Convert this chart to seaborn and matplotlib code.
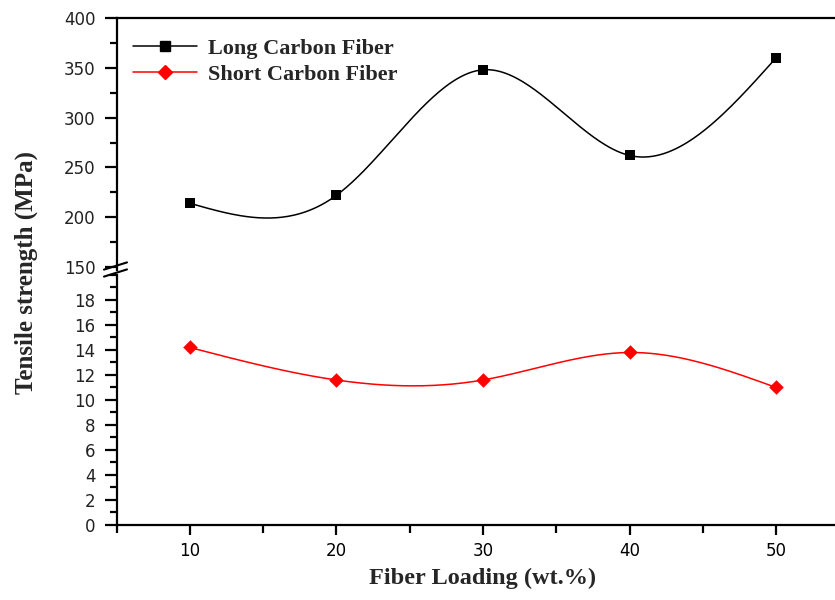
import numpy as np
import pandas as pd
import matplotlib
matplotlib.use("Agg")
import matplotlib.pyplot as plt
from matplotlib.lines import Line2D
from matplotlib.ticker import MultipleLocator
import seaborn as sns

# ---- data ----
fiber_loading = [10, 20, 30, 40, 50]
long_carbon = [214, 222, 348, 262, 360]
short_carbon = [14.2, 11.6, 11.6, 13.8, 11.0]
series_names = ["Long Carbon Fiber", "Short Carbon Fiber"]
x_label = "Fiber Loading (wt.%)"
y_label = "Tensile strength (MPa)"


def natural_spline(x, y, n=300):
    x = np.asarray(x, float)
    y = np.asarray(y, float)
    k = len(x)
    h = np.diff(x)
    A = np.zeros((k, k))
    b = np.zeros(k)
    A[0, 0] = 1
    A[-1, -1] = 1
    for i in range(1, k - 1):
        A[i, i - 1] = h[i - 1]
        A[i, i] = 2 * (h[i - 1] + h[i])
        A[i, i + 1] = h[i]
        b[i] = 6 * ((y[i + 1] - y[i]) / h[i] - (y[i] - y[i - 1]) / h[i - 1])
    M = np.linalg.solve(A, b)
    xs = np.linspace(x[0], x[-1], n)
    ys = np.empty_like(xs)
    for j, xv in enumerate(xs):
        i = min(np.searchsorted(x, xv, side="right") - 1, k - 2)
        i = max(i, 0)
        t1 = x[i + 1] - xv
        t0 = xv - x[i]
        hi = h[i]
        ys[j] = (M[i] * t1 ** 3 / (6 * hi) + M[i + 1] * t0 ** 3 / (6 * hi)
                 + (y[i] / hi - M[i] * hi / 6) * t1
                 + (y[i + 1] / hi - M[i + 1] * hi / 6) * t0)
    return xs, ys


sns.set_style("white")
plt.rcParams["font.family"] = ["DejaVu Sans"]
plt.rcParams["axes.linewidth"] = 1.6

fig = plt.figure(figsize=(8.35, 6.0), dpi=100)
ax_top = fig.add_axes([0.1396, 0.55, 1.0172 - 0.1396, 0.97 - 0.55])
ax_bot = fig.add_axes([0.1396, 0.125, 1.0172 - 0.1396, 0.5417 - 0.125])

# long carbon fiber (upper)
xs, ys = natural_spline(fiber_loading, long_carbon)
sns.lineplot(x=xs, y=ys, ax=ax_top, color="black", lw=1.1, sort=False, estimator=None)
sns.scatterplot(x=fiber_loading, y=long_carbon, ax=ax_top, color="black", marker="s",
                s=60, edgecolor="black", linewidth=0, zorder=5)

# short carbon fiber (lower)
xs2, ys2 = natural_spline(fiber_loading, short_carbon)
sns.lineplot(x=xs2, y=ys2, ax=ax_bot, color="red", lw=1.1, sort=False, estimator=None)
sns.scatterplot(x=fiber_loading, y=short_carbon, ax=ax_bot, color="red", marker="D",
                s=55, edgecolor="red", linewidth=0, zorder=5)

for ax in (ax_top, ax_bot):
    ax.set_xlim(5, 55)
    ax.set_facecolor("white")
    ax.spines["right"].set_visible(False)
    for sp in ax.spines.values():
        sp.set_color("black")

ax_top.set_ylim(147, 400)
ax_bot.set_ylim(0, 20)

ax_top.spines["bottom"].set_visible(False)
ax_bot.spines["top"].set_visible(False)

ax_top.yaxis.set_major_locator(MultipleLocator(50))
ax_top.yaxis.set_minor_locator(MultipleLocator(25))
ax_bot.yaxis.set_major_locator(MultipleLocator(2))
ax_bot.yaxis.set_minor_locator(MultipleLocator(1))
ax_bot.set_yticks(np.arange(0, 19, 2))
ax_bot.xaxis.set_major_locator(MultipleLocator(10))
ax_bot.xaxis.set_minor_locator(MultipleLocator(5))

tick_kw = dict(width=1.6, direction="out", colors="black")
ax_top.tick_params(axis="x", which="both", bottom=False, top=False, labelbottom=False)
for ax in (ax_top, ax_bot):
    ax.tick_params(axis="y", which="major", left=True, length=9, labelsize=12,
                   pad=6, **tick_kw)
    ax.tick_params(axis="y", which="minor", left=True, length=5, **tick_kw)
    for lbl in ax.get_yticklabels():
        lbl.set_color("#222222")
ax_bot.tick_params(axis="x", which="major", bottom=True, length=7, labelsize=12,
                   pad=5, **tick_kw)
ax_bot.tick_params(axis="x", which="minor", bottom=True, length=6, **tick_kw)
ax_top.set_xlabel("")
ax_bot.set_xlabel(x_label, fontfamily="Liberation Serif", fontweight="bold",
                  fontsize=17.5, labelpad=6)

fig.text(0.032, 0.545, y_label, rotation=90, ha="center", va="center",
         fontfamily="Liberation Serif", fontweight="bold", fontsize=18)

# break marks on the left spine
for yy in (266, 273):
    yf = 1 - yy / 600
    fig.add_artist(Line2D([104 / 835, 127 / 835], [yf - 0.006, yf + 0.006],
                          color="black", lw=1.5, transform=fig.transFigure))

handles = [
    Line2D([], [], color="black", lw=1.1, marker="s", markersize=7.5),
    Line2D([], [], color="red", lw=1.1, marker="D", markersize=7),
]
ax_top.legend(handles, series_names, loc="upper left", bbox_to_anchor=(-0.005, 1.0),
              frameon=False, handlelength=2.9, handletextpad=0.5, labelspacing=0.25,
              prop={"family": "Liberation Serif", "weight": "bold", "size": 16})

fig.savefig("out.png", dpi=100, facecolor="white")
